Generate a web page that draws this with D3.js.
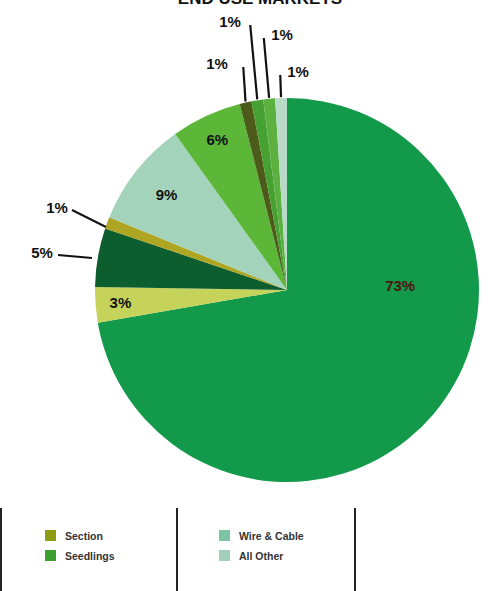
<!DOCTYPE html>
<html><head><meta charset="utf-8">
<script src="https://cdn.jsdelivr.net/npm/d3@7"></script>
<style>body{margin:0;background:#fff}svg{display:block}</style>
</head><body>
<svg id="c" width="494" height="591"></svg>
<script>
// ---- data ----
const sliceNames = ["Main", "Section", "Dark", "Olive", "Wire & Cable", "Seedlings", "S1", "S2", "S3", "All Other"];
const sliceValues = [73, 3, 5, 1, 9, 6, 1, 1, 1, 1];
const sliceLabels = ["73%", "3%", "5%", "1%", "9%", "6%", "1%", "1%", "1%", "1%"];
const sliceColors = ["#13994a", "#c6d35a", "#0c5e2f", "#aea622", "#a3d3bb", "#5cb637", "#4c5a1a", "#46a032", "#5cb040", "#b9dac9"];
const legendNames = ["Section", "Seedlings", "Wire & Cable", "All Other"];
const legendColors = ["#8d9c12", "#3c9e2e", "#7dc4a5", "#a0d0bb"];
const titleText = "END USE MARKETS";

// ---- layout ----
const W = 494, H = 591, cx = 287, cy = 290, R = 192;
const labelLayout = [
  {type: "in", ang: 88, rf: 0.59, color: "#4a1410"},
  {type: "in", rf: 0.87},
  {type: "left", tx: 42, ty: 258, lx1: 58, ly1: 255, lx2: 92, ly2: 258},
  {type: "left", tx: 57, ty: 213, lx1: 72, ly1: 210, lx2: 106, ly2: 227},
  {type: "in", rf: 0.80},
  {type: "in", rf: 0.86},
  {type: "top", ty: 67, tx: 217},
  {type: "top", ty: 25, tx: 230},
  {type: "top", ty: 38, tx: 282},
  {type: "top", ty: 75, tx: 298}
];

const svg = d3.select("#c");
svg.append("text").attr("x", 260).attr("y", 4).attr("text-anchor", "middle")
  .attr("font-family", "Liberation Sans, Arial, sans-serif").attr("font-weight", 900)
  .attr("font-size", 17).attr("fill", "#111").text(titleText);

const pie = d3.pie().sort(null).value(d => d)(sliceValues);
const arc = d3.arc().innerRadius(0).outerRadius(R);
const g = svg.append("g").attr("transform", `translate(${cx},${cy})`);
g.selectAll("path").data(pie).join("path")
  .attr("d", arc).attr("fill", (d, i) => sliceColors[i]);

const font = "Liberation Sans, Arial, sans-serif";
function pt(angDeg, r) {
  const a = angDeg * Math.PI / 180;
  return [cx + r * Math.sin(a), cy - r * Math.cos(a)];
}
pie.forEach((d, i) => {
  const L = labelLayout[i];
  const mid = (d.startAngle + d.endAngle) / 2 * 180 / Math.PI;
  if (L.type === "in") {
    const p = pt(L.ang !== undefined ? L.ang : mid, L.rf * R);
    svg.append("text").attr("x", p[0]).attr("y", p[1] + 5).attr("text-anchor", "middle")
      .attr("font-family", font).attr("font-weight", 900).attr("font-size", 15)
      .attr("fill", L.color || "#111").text(sliceLabels[i]);
  } else if (L.type === "left") {
    svg.append("line").attr("x1", L.lx1).attr("y1", L.ly1).attr("x2", L.lx2).attr("y2", L.ly2)
      .attr("stroke", "#111").attr("stroke-width", 2);
    svg.append("text").attr("x", L.tx).attr("y", L.ty).attr("text-anchor", "middle")
      .attr("font-family", font).attr("font-weight", 900).attr("font-size", 15)
      .attr("fill", "#111").text(sliceLabels[i]);
  } else {
    const p = pt(mid, R);
    const topX = p[0] - (p[1] - L.ty) * 0.12 + 2;
    svg.append("line").attr("x1", p[0]).attr("y1", p[1] - 1).attr("x2", topX).attr("y2", L.ty)
      .attr("stroke", "#111").attr("stroke-width", 2.2);
    svg.append("text").attr("x", L.tx).attr("y", L.ty + 2).attr("text-anchor", "middle")
      .attr("font-family", font).attr("font-weight", 900).attr("font-size", 15)
      .attr("fill", "#111").text(sliceLabels[i]);
  }
});

// ---- legend ----
const sepX = [1, 177, 355];
svg.selectAll("line.sep").data(sepX).join("line").attr("class", "sep")
  .attr("x1", d => d).attr("x2", d => d).attr("y1", 508).attr("y2", 591)
  .attr("stroke", "#222").attr("stroke-width", 2);
const legPos = [[45, 530], [45, 550], [219, 530], [219, 550]];
legendNames.forEach((n, i) => {
  const [x, y] = legPos[i];
  svg.append("rect").attr("x", x).attr("y", y).attr("width", 11).attr("height", 11).attr("fill", legendColors[i]);
  svg.append("text").attr("x", x + 20).attr("y", y + 9.5).attr("font-family", font)
    .attr("font-weight", 700).attr("font-size", 10.5).attr("fill", "#333").text(n);
});
</script>
</body></html>
